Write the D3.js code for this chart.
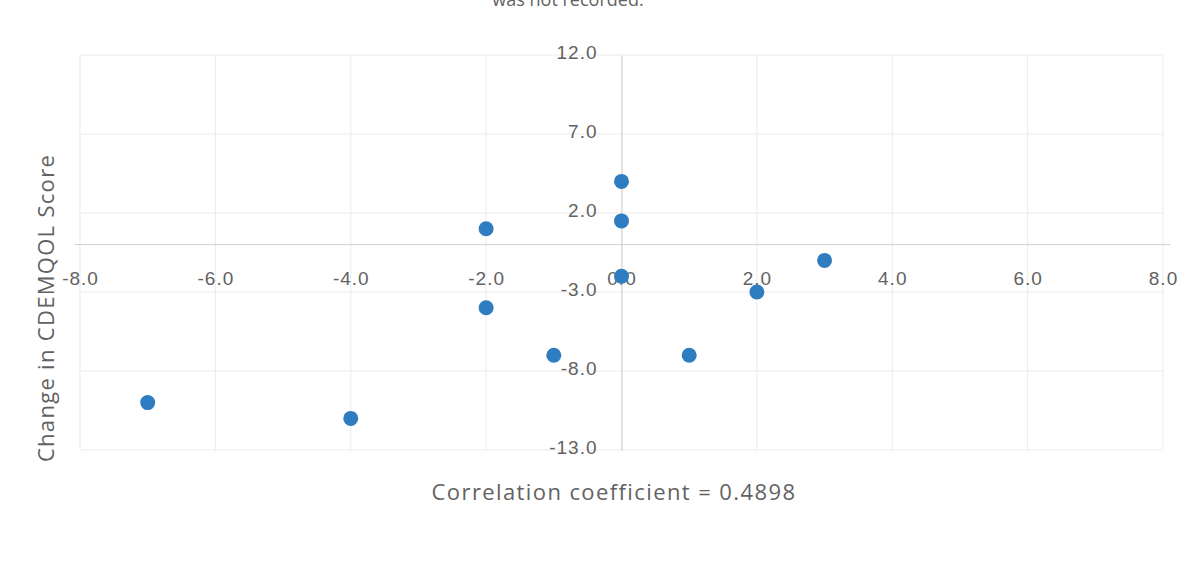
<!DOCTYPE html>
<html>
<head>
<meta charset="utf-8">
<script src="https://cdn.jsdelivr.net/npm/d3@7"></script>
<style>
  html, body { margin: 0; padding: 0; background: #fff; }
  svg { display: block; font-family: "Open Sans", "Noto Sans", sans-serif; }
</style>
</head>
<body>
<svg id="chart" width="1204" height="582"></svg>
<script>
// Change in a cognitive measure (x) vs change in CDEMQOL score (y)
const xChange = [-7, -4, -2, -2, -1, 0, 0, 0, 1, 2, 3];
const yChange = [-10, -11, 1, -4, -7, 4, 1.5, -2, -7, -3, -1];
const xTicks = [-8, -6, -4, -2, 0, 2, 4, 6, 8];
const yTicks = [12, 7, 2, -3, -8, -13];
const yTitle = "Change in CDEMQOL Score";
const footnote = "Correlation coefficient = 0.4898";
const topText = "was not recorded.";

const svg = d3.select("#chart");

const x = d3.scaleLinear().domain([-8, 8]).range([80, 1163]);
const y = d3.scaleLinear().domain([-13, 12]).range([450, 55]);

// plain hyphen for negatives, one decimal
const fmt = d => d.toFixed(1);
const gridColor = "#ebebeb";
const axisColor = "#d0d0d0";
const labelColor = "#626262";

// last line of the caption above the plot
svg.append("text")
  .attr("x", 568).attr("y", 6)
  .attr("text-anchor", "middle")
  .attr("fill", labelColor)
  .attr("font-size", 18)
  .text(topText);

// gridlines
const grid = svg.append("g");
grid.selectAll("line.v").data(xTicks).join("line")
  .attr("x1", d => x(d)).attr("x2", d => x(d))
  .attr("y1", y(12)).attr("y2", y(-13))
  .attr("stroke", gridColor).attr("stroke-width", 1);
grid.selectAll("line.h").data(yTicks).join("line")
  .attr("x1", x(-8)).attr("x2", x(8))
  .attr("y1", d => y(d)).attr("y2", d => y(d))
  .attr("stroke", gridColor).attr("stroke-width", 1);

// axes crossing at zero
const xAxis = d3.axisBottom(x).tickValues(xTicks).tickFormat(fmt).tickSize(0).tickPadding(27);
const gx = svg.append("g").attr("transform", `translate(0,${y(0)})`).call(xAxis);
gx.select(".domain").attr("stroke", axisColor).attr("d", `M${x(-8) - 5},0H${x(8) + 7}`);
gx.selectAll("text").attr("fill", labelColor).attr("font-size", 19).attr("letter-spacing", 1);

const yAxis = d3.axisLeft(y).tickValues(yTicks).tickFormat(fmt).tickSize(0).tickPadding(24);
const gy = svg.append("g").attr("transform", `translate(${x(0)},0)`).call(yAxis);
gy.select(".domain").attr("stroke", axisColor);
gy.selectAll("text").attr("fill", labelColor).attr("font-size", 19).attr("letter-spacing", 1)
  .attr("dy", "0.2em");

// points
svg.append("g").selectAll("circle")
  .data(xChange.map((d, i) => ({ x: d, y: yChange[i] })))
  .join("circle")
  .attr("cx", d => x(d.x)).attr("cy", d => y(d.y))
  .attr("r", 7.5)
  .attr("fill", "#2e7dc0");

// y axis title
svg.append("text")
  .attr("transform", "translate(54,308) rotate(-90)")
  .attr("text-anchor", "middle")
  .attr("fill", labelColor)
  .attr("font-size", 22)
  .attr("letter-spacing", 1.3)
  .text(yTitle);

// correlation note
svg.append("text")
  .attr("x", 614).attr("y", 500)
  .attr("text-anchor", "middle")
  .attr("fill", labelColor)
  .attr("font-size", 22)
  .attr("letter-spacing", 1.4)
  .text(footnote);
</script>
</body>
</html>
